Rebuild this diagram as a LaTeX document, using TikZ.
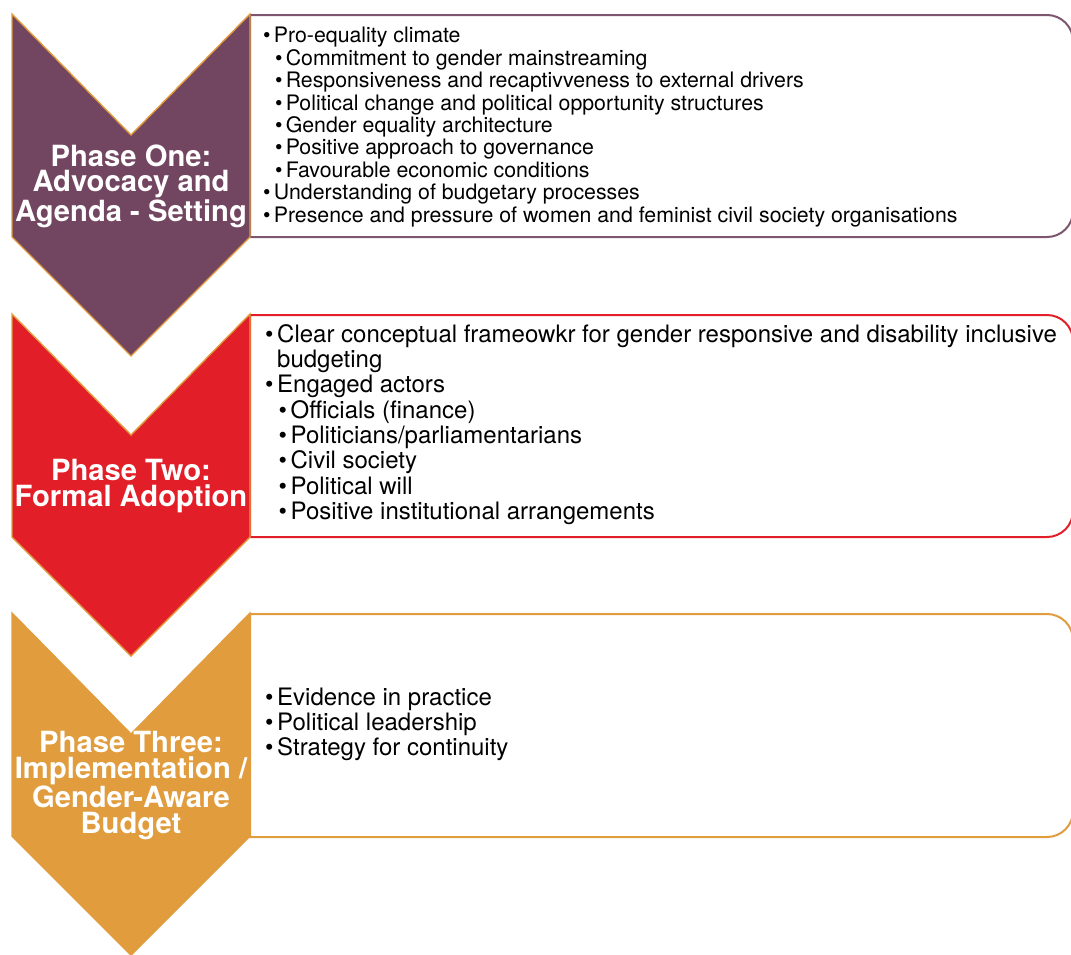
\documentclass[tikz,border=0pt]{standalone}
\usepackage{fontspec}
\setmainfont{TeX Gyre Heros}
\definecolor{purp}{HTML}{724661}
\definecolor{redd}{HTML}{E21F28}
\definecolor{oran}{HTML}{E09C3D}
\newcommand{\bl}{\makebox[0.5em][l]{\textbullet}}
\newcommand{\sbl}{\hspace*{0.56em}\bl}
\tikzset{
    CHV/.style ={draw=oran, line width=1.4pt, line join=miter},
    BOX/.style ={fill=white, line width=2pt},
    PH/.style ={text=white, align=center, inner sep=0pt, font={\fontsize{29.2}{25.8}\selectfont\bfseries}},
    TX1/.style ={anchor=west, align=left, inner sep=0pt, font={\fontsize{21.3}{22.4}\selectfont}},
    TX2/.style ={anchor=west, align=left, inner sep=0pt, font={\fontsize{24}{25.3}\selectfont}}}
\begin{document}
\begin{tikzpicture}[x=1pt,y=1pt]
        \useasboundingbox (0,0) rectangle (1071,-954);
        % boxes
        \draw[BOX, draw=purp!92!white] (250,-15) -- (1047,-15) arc[start angle=90, end angle=0, radius=26pt] -- (1073,-211) arc[start angle=0, end angle=-90, radius=26pt] -- (250,-237) -- cycle;
        \draw[BOX, draw=redd] (250,-315) -- (1047,-315) arc[start angle=90, end angle=0, radius=26pt] -- (1073,-511) arc[start angle=0, end angle=-90, radius=26pt] -- (250,-537) -- cycle;
        \draw[BOX, draw=oran] (250,-614) -- (1047,-614) arc[start angle=90, end angle=0, radius=26pt] -- (1073,-811) arc[start angle=0, end angle=-90, radius=26pt] -- (250,-837) -- cycle;
        % chevrons
        \draw[CHV, fill=purp] (12,-14) -- (131,-135) -- (250,-14) -- (250,-237) -- (131,-356) -- (12,-237) -- cycle;
        \draw[CHV, fill=redd] (12,-314) -- (131,-435) -- (250,-314) -- (250,-537) -- (131,-656) -- (12,-537) -- cycle;
        \draw[CHV, fill=oran] (12,-613) -- (131,-734) -- (250,-613) -- (250,-836) -- (131,-955) -- (12,-836) -- cycle;
        % phase labels
        \node[PH] (p1) at (131,-186) {Phase One:\\Advocacy and\\Agenda - Setting};
        \node[PH] (p2) at (131,-486) {Phase Two:\\Formal Adoption};
        \node[PH] (p3) at (131,-785.5) {Phase Three:\\Implementation /\\Gender-Aware\\Budget};
        % box texts
        \node[TX1] (t1) at (263,-127) {\bl Pro-equality climate\\
            \sbl Commitment to gender mainstreaming\\
            \sbl Responsiveness and recaptivveness to external drivers\\
            \sbl Political change and political opportunity structures\\
            \sbl Gender equality architecture\\
            \sbl Positive approach to governance\\
            \sbl Favourable economic conditions\\
            \bl Understanding of budgetary processes\\
            \bl Presence and pressure of women and feminist civil society organisations};
        \node[TX2] (t2) at (265,-424.5) {\bl Clear conceptual frameowkr for gender responsive and disability inclusive\\
            \hphantom{\bl}budgeting\\
            \bl Engaged actors\\
            \sbl Officials (finance)\\
            \sbl Politicians/parliamentarians\\
            \sbl Civil society\\
            \sbl Political will\\
            \sbl Positive institutional arrangements};
        \node[TX2] (t3) at (265,-724.5) {\bl Evidence in practice\\
            \bl Political leadership\\
            \bl Strategy for continuity};
\end{tikzpicture}
\end{document}
